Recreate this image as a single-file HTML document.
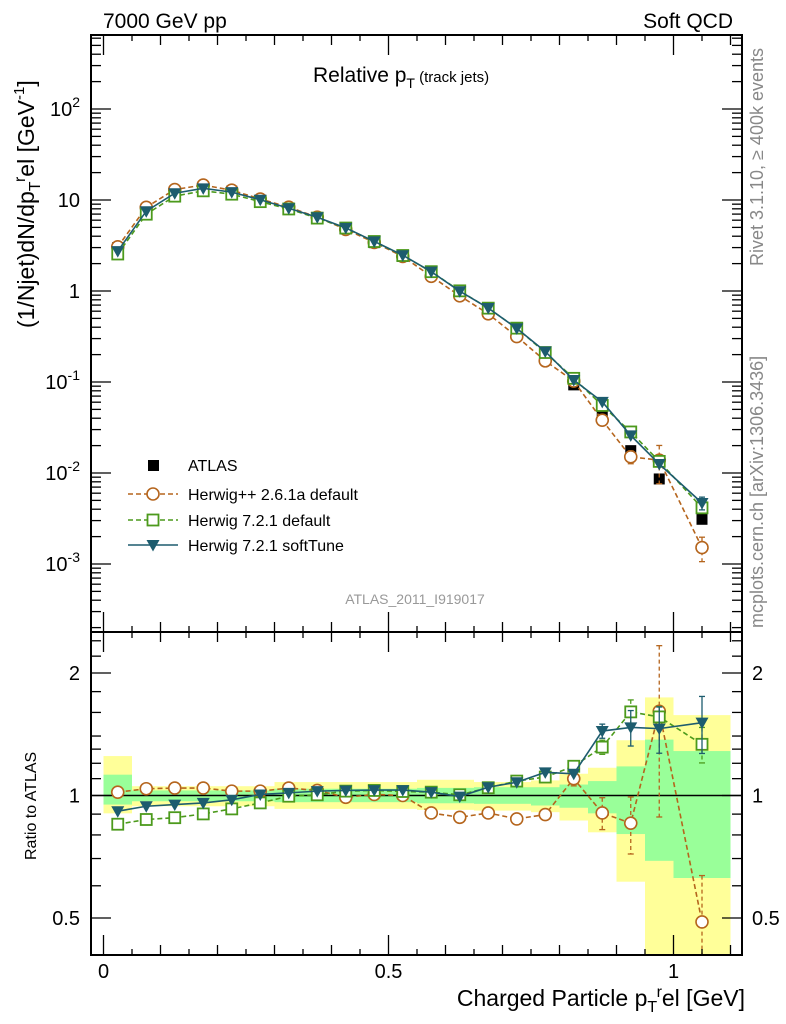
<!DOCTYPE html>
<html><head><meta charset="utf-8"><style>
html,body{margin:0;padding:0;background:#fff;}
svg{display:block;font-family:"Liberation Sans",sans-serif;}
</style></head><body>
<svg id="chart" width="786" height="1024" viewBox="0 0 786 1024">
<g id="bands"></g>
<g id="grid"></g>
<g id="series"></g>
<g id="frame"></g>
<g id="texts"></g>
</svg>
<script>
const binLo=[0,0.05,0.1,0.15,0.2,0.25,0.3,0.35,0.4,0.45,0.5,0.55,0.6,0.65,0.7,0.75,0.8,0.85,0.9,0.95,1.0];
const binHi=[0.05,0.1,0.15,0.2,0.25,0.3,0.35,0.4,0.45,0.5,0.55,0.6,0.65,0.7,0.75,0.8,0.85,0.9,0.95,1.0,1.1];
const xCenters=[0.025,0.075,0.125,0.175,0.225,0.275,0.325,0.375,0.425,0.475,0.525,0.575,0.625,0.675,0.725,0.775,0.825,0.875,0.925,0.975,1.05];
const atlas=[3.0,8.0,12.5,14.0,12.5,10.0,8.0,6.3,4.8,3.4,2.4,1.6,1.0,0.62,0.36,0.19,0.093,0.042,0.0176,0.0086,0.0031];
const ratioHpp=[1.019,1.039,1.043,1.043,1.025,1.025,1.043,1.029,0.99,1.006,1.0,0.906,0.884,0.906,0.876,0.898,1.10,0.906,0.855,1.61,0.489];
const errHpp=[0.01,0.01,0.01,0.01,0.01,0.01,0.01,0.01,0.01,0.01,0.01,0.01,0.015,0.015,0.025,0.03,0.04,0.09,0.16,0.45,0.3];
const ratioH7=[0.85,0.873,0.882,0.901,0.927,0.959,0.996,1.004,1.025,1.029,1.023,1.019,1.004,1.045,1.085,1.11,1.18,1.315,1.605,1.56,1.336];
const errH7=[0.005,0.005,0.005,0.005,0.005,0.005,0.005,0.005,0.005,0.005,0.005,0.005,0.01,0.01,0.01,0.015,0.02,0.04,0.07,0.06,0.1];
const ratioSoft=[0.915,0.941,0.95,0.959,0.976,1.006,1.015,1.025,1.029,1.031,1.031,1.019,0.994,1.048,1.078,1.14,1.131,1.44,1.47,1.46,1.51];
const errSoft=[0.005,0.005,0.005,0.005,0.005,0.005,0.005,0.005,0.005,0.005,0.005,0.005,0.01,0.01,0.01,0.015,0.02,0.04,0.1,0.13,0.16];
const yelHi=[1.25,1.054,1.054,1.054,1.054,1.054,1.079,1.079,1.079,1.079,1.079,1.093,1.093,1.079,1.079,1.089,1.131,1.17,1.367,1.742,1.576];
const yelLo=[0.904,0.941,0.941,0.941,0.941,0.941,0.927,0.927,0.927,0.927,0.927,0.922,0.922,0.918,0.918,0.91,0.868,0.812,0.614,0.3,0.3];
const grnHi=[1.125,1.029,1.029,1.029,1.029,1.029,1.039,1.039,1.039,1.039,1.039,1.044,1.044,1.048,1.048,1.048,1.064,1.085,1.179,1.372,1.286];
const grnLo=[0.95,0.968,0.968,0.968,0.968,0.968,0.963,0.963,0.963,0.963,0.963,0.957,0.957,0.954,0.954,0.945,0.933,0.904,0.804,0.691,0.627];
const yTickVals=[0.001,0.01,0.1,1,10,100];
const yTickLabels=["10^-3","10^-2","10^-1","1","10","10^2"];
const rTickVals=[0.5,1,2];
const rTickLabels=["0.5","1","2"];
const xTickVals=[0,0.5,1];
const xTickLabels=["0","0.5","1"];

const L=91,R=742,T=35,MB=632,RB=955;
const NS="http://www.w3.org/2000/svg";
function X(v){return 103.5+v*570;}
function Y(v){return 291-Math.log10(v)*91;}
function RY(v){return Math.min(RB,Math.max(MB,795.5-Math.log2(v)*122.5));}
function el(tag,attrs,parent){const e=document.createElementNS(NS,tag);for(const k in attrs)e.setAttribute(k,attrs[k]);parent.appendChild(e);return e;}
const bands=document.getElementById('bands'),series=document.getElementById('series'),frame=document.getElementById('frame'),texts=document.getElementById('texts');

for(let i=0;i<binLo.length;i++){
  const y=el('rect',{x:X(binLo[i]),width:X(binHi[i])-X(binLo[i]),y:RY(yelHi[i]),height:RY(yelLo[i])-RY(yelHi[i]),fill:'#ffff99'},bands);
  
  
  const g=el('rect',{x:X(binLo[i]),width:X(binHi[i])-X(binLo[i]),y:RY(grnHi[i]),height:RY(grnLo[i])-RY(grnHi[i]),fill:'#99ff99'},bands);
  
  
}
const one=el('line',{x1:L,x2:R,y1:RY(1),y2:RY(1),stroke:'#000','stroke-width':1.5},series);



function marker(type,cx,cy,color,parent){
  let m;
  if(type==='sq') m=el('rect',{x:cx-5.5,y:cy-5.5,width:11,height:11,fill:'#000'},parent);
  else if(type==='circ') m=el('circle',{cx:cx,cy:cy,r:6,fill:'#fff',stroke:color,'stroke-width':1.6},parent);
  else if(type==='osq') m=el('rect',{x:cx-5.5,y:cy-5.5,width:11,height:11,fill:'#fff',stroke:color,'stroke-width':1.8},parent);
  else m=el('polygon',{points:`${cx-6.5},${cy-5} ${cx+6.5},${cy-5} ${cx},${cy+6.5}`,fill:color},parent);
  return m;
}
function drawSeries(name,ratios,errs,type,color,dash,isRatio){
  const g=el('g',{},series);
  
  
  const pts=ratios.map((r,i)=>[X(xCenters[i]),isRatio?RY(r):Y(atlas[i]*r)]);
  const attrs={points:pts.map(p=>p.join(',')).join(' '),fill:'none',stroke:color,'stroke-width':1.6};
  if(dash)attrs['stroke-dasharray']=dash;
  el('polyline',attrs,g);
  ratios.forEach((r,i)=>{
    const lo=r*(1-errs[i]),hi=r*(1+errs[i]);
    const y1=isRatio?RY(hi):Y(atlas[i]*hi),y2=isRatio?RY(lo):Y(atlas[i]*lo);
    if(y2-y1>12){
      const ea={x1:pts[i][0],x2:pts[i][0],y1:y1,y2:y2,stroke:color,'stroke-width':1.3};
      if(dash)ea['stroke-dasharray']='4,3';
      el('line',ea,g);
      el('line',{x1:pts[i][0]-3,x2:pts[i][0]+3,y1:y1,y2:y1,stroke:color,'stroke-width':1.3},g);
      el('line',{x1:pts[i][0]-3,x2:pts[i][0]+3,y1:y2,y2:y2,stroke:color,'stroke-width':1.3},g);
    }
    marker(type,pts[i][0],pts[i][1],color,g);
  });
}
const ag=el('g',{},series);


atlas.forEach((v,i)=>marker('sq',X(xCenters[i]),Y(v),'#000',ag));
const cH='#b5651d',cG='#4c9a1c',cT='#1d5c6e';
drawSeries('herwigpp-series',ratioHpp,errHpp,'circ',cH,'5,3',false);
drawSeries('herwig7-default-series',ratioH7,errH7,'osq',cG,'5,3',false);
drawSeries('herwig7-softtune-series',ratioSoft,errSoft,'tri',cT,null,false);
drawSeries('herwigpp-ratio-series',ratioHpp,errHpp,'circ',cH,'5,3',true);
drawSeries('herwig7-default-ratio-series',ratioH7,errH7,'osq',cG,'5,3',true);
drawSeries('herwig7-softtune-ratio-series',ratioSoft,errSoft,'tri',cT,null,true);

const f1=el('rect',{x:L,y:T,width:R-L,height:MB-T,fill:'none',stroke:'#000','stroke-width':2},frame);


const f2=el('rect',{x:L,y:MB,width:R-L,height:RB-MB,fill:'none',stroke:'#000','stroke-width':2},frame);


for(let d=-4;d<=2;d++){for(let k=1;k<10;k++){const v=k*Math.pow(10,d);const y=Y(v);if(y<T||y>MB)continue;const len=k===1?20:10;
el('line',{x1:L,x2:L+len,y1:y,y2:y,stroke:'#000','stroke-width':1.3},frame);el('line',{x1:R,x2:R-len,y1:y,y2:y,stroke:'#000','stroke-width':1.3},frame);}}
for(let v=0.4;v<=2.5;v+=0.1){const y=RY(v);if(y<=MB+1||y>=RB-1)continue;const maj=Math.abs(v-0.5)<1e-6||Math.abs(v-1)<1e-6||Math.abs(v-2)<1e-6;const len=maj?20:10;
if(v>1.05&&Math.abs((v*10)%2)>0.5&&!maj&&v>1.5)continue;
el('line',{x1:L,x2:L+len,y1:y,y2:y,stroke:'#000','stroke-width':1.3},frame);el('line',{x1:R,x2:R-len,y1:y,y2:y,stroke:'#000','stroke-width':1.3},frame);}
for(let i=0;i<=22;i++){const v=i*0.05;const x=X(v);if(x>R)continue;const len=(i%10===0)?20:(i%2===0?10:6);
el('line',{x1:x,x2:x,y1:MB,y2:MB-len,stroke:'#000','stroke-width':1.3},frame);
el('line',{x1:x,x2:x,y1:RB,y2:RB-len,stroke:'#000','stroke-width':1.3},frame);
el('line',{x1:x,x2:x,y1:T,y2:T+len,stroke:'#000','stroke-width':1.3},frame);
el('line',{x1:x,x2:x,y1:MB,y2:MB+len,stroke:'#000','stroke-width':1.3},frame);}
yTickVals.forEach((v,i)=>{const y=Y(v);const s=yTickLabels[i];const t=el('text',{x:80,y:y+7,'text-anchor':'end','font-size':20},texts);


if(s.indexOf('^')>0){const [b,e]=s.split('^');t.textContent=b;const ts=el('tspan',{dy:-9,'font-size':14},t);ts.textContent=e;}else t.textContent=s;});
rTickVals.forEach((v,i)=>{const y=RY(v);[80,752].forEach(x=>{const t=el('text',{x:x,y:y+7,'text-anchor':x<100?'end':'start','font-size':20},texts);


t.textContent=rTickLabels[i];});});
xTickVals.forEach((v,i)=>{const t=el('text',{x:X(v),y:978,'text-anchor':'middle','font-size':20},texts);


t.textContent=xTickLabels[i];});
</script>
<svg style="position:absolute;left:0;top:0" width="786" height="1024">
<g font-family="Liberation Sans, sans-serif">
<text x="103" y="28" font-size="21">7000 GeV pp</text>
<text x="733" y="28" font-size="21" text-anchor="end">Soft QCD</text>
<text x="313" y="82" font-size="21">Relative p<tspan dy="6" font-size="14">T</tspan><tspan dy="-6" font-size="15"> (track jets)</tspan></text>
<text transform="translate(34,328) rotate(-90)" font-size="23">(1/Njet)dN/dp<tspan dy="6" font-size="16">T</tspan><tspan dy="-15" font-size="16">r</tspan><tspan dy="9">el [GeV</tspan><tspan dy="-10" font-size="15">-1</tspan><tspan dy="10">]</tspan></text>
<text transform="translate(36,860) rotate(-90)" font-size="16">Ratio to ATLAS</text>
<text x="745" y="1006" font-size="23" text-anchor="end">Charged Particle p<tspan dy="6" font-size="16">T</tspan><tspan dy="-15" font-size="16">r</tspan><tspan dy="9">el [GeV]</tspan></text>
<text transform="translate(763,266) rotate(-90)" font-size="18" fill="#888">Rivet 3.1.10, ≥ 400k events</text>
<text transform="translate(763,628) rotate(-90)" font-size="18" fill="#888">mcplots.cern.ch [arXiv:1306.3436]</text>
<text x="415" y="604" font-size="14" fill="#999" text-anchor="middle">ATLAS_2011_I919017</text>
<g font-size="16">
<rect x="148" y="460" width="11" height="11" fill="#000"/>
<text x="188" y="471">ATLAS</text>
<line x1="128" x2="178" y1="494" y2="494" stroke="#b5651d" stroke-width="1.6" stroke-dasharray="5,3"/>
<circle cx="153" cy="494" r="6" fill="#fff" stroke="#b5651d" stroke-width="1.6"/>
<text x="188" y="500">Herwig++ 2.6.1a default</text>
<line x1="128" x2="178" y1="520" y2="520" stroke="#4c9a1c" stroke-width="1.6" stroke-dasharray="5,3"/>
<rect x="147.5" y="514.5" width="11" height="11" fill="#fff" stroke="#4c9a1c" stroke-width="1.8"/>
<text x="188" y="526">Herwig 7.2.1 default</text>
<line x1="128" x2="178" y1="545" y2="545" stroke="#1d5c6e" stroke-width="1.6"/>
<polygon points="146.5,540 159.5,540 153,551.5" fill="#1d5c6e"/>
<text x="188" y="551">Herwig 7.2.1 softTune</text>
</g>
</g>
</svg>
</body></html>
